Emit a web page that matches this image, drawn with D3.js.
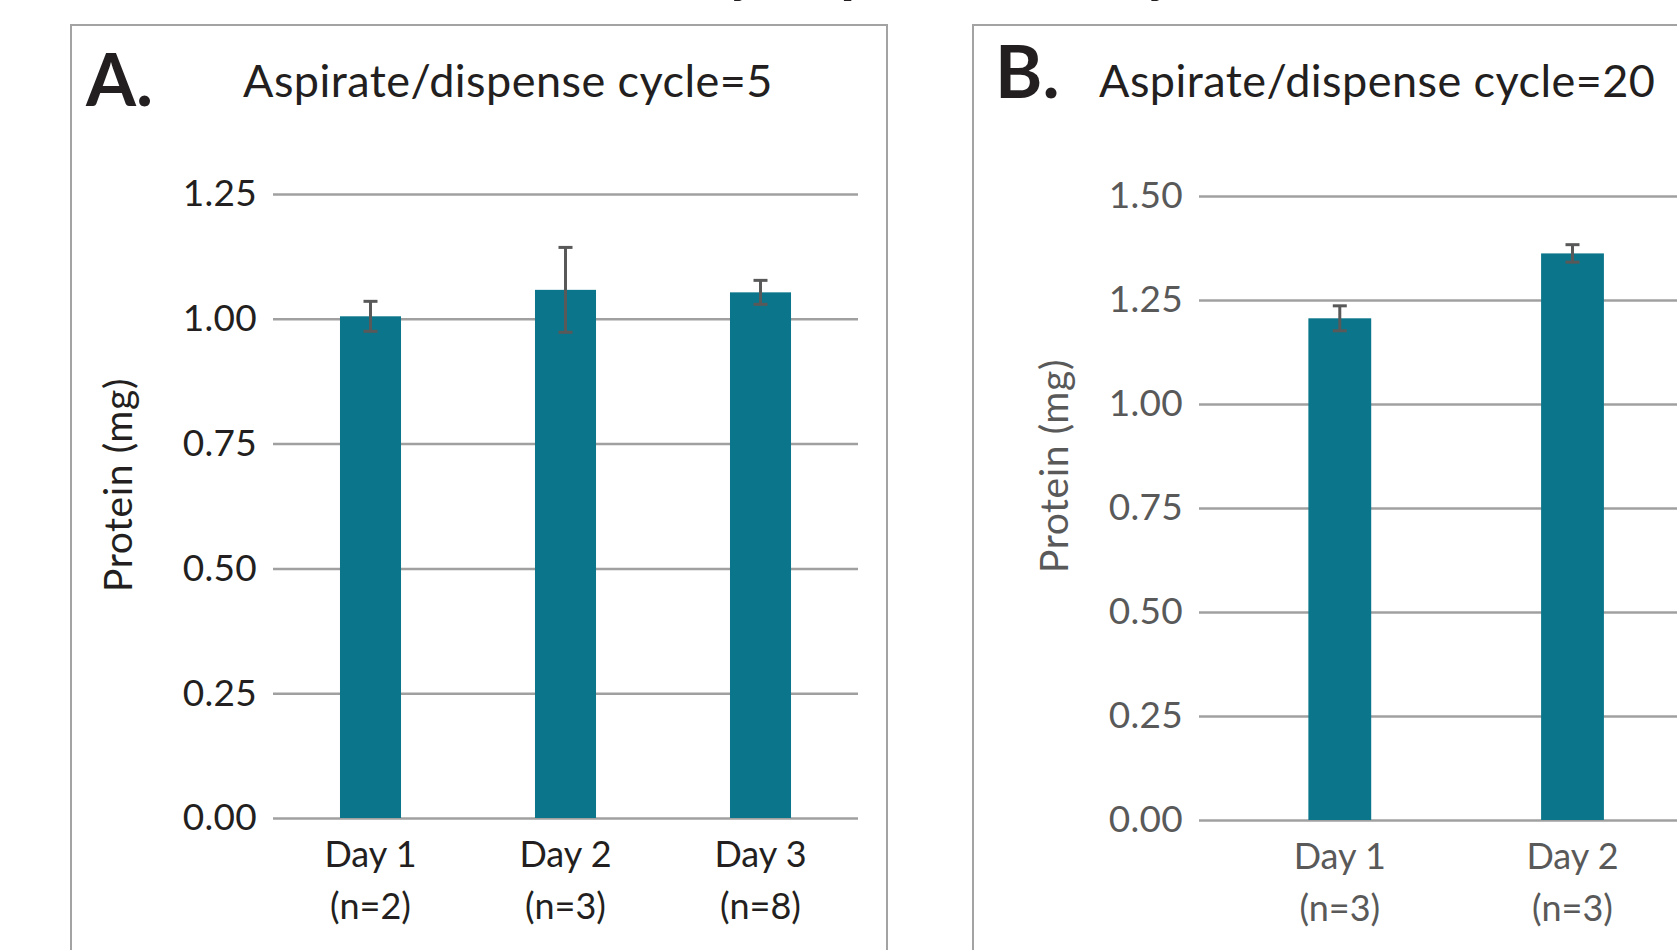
<!DOCTYPE html>
<html>
<head>
    <meta charset="utf-8">
    <title>Protein reproducibility</title>
    <script src="https://d3js.org/d3.v7.min.js"></script>
    <style>
        body { margin: 0; background: #fff; }
        text { font-family: Lato, "Open Sans", sans-serif; }
    </style>
</head>
<body>
    <script>
        // Data
        const mainTitle = "Inter-Day Reproducibility";

        const titleA = "Aspirate/dispense cycle=5";
        const daysA = ["Day 1", "Day 2", "Day 3"];
        const countsA = ["(n=2)", "(n=3)", "(n=8)"];
        const proteinA = [1.005, 1.058, 1.053];
        const errorA = [0.030, 0.085, 0.024];
        const ticksA = [0, 0.25, 0.5, 0.75, 1.0, 1.25];

        // third day of panel B is cut off by the picture edge
        const titleB = "Aspirate/dispense cycle=20";
        const daysB = ["Day 1", "Day 2", "Day 3"];
        const countsB = ["(n=3)", "(n=3)"];
        const proteinB = [1.206, 1.362];
        const errorB = [0.030, 0.021];
        const ticksB = [0, 0.25, 0.5, 0.75, 1.0, 1.25, 1.5];

        const width = 1677, height = 950;
        const barColor = "#0b768b";

        const svg = d3.select("body")
            .append("svg")
            .attr("width", width)
            .attr("height", height);

        // Main title: only its descenders show at the top edge
        const head = svg.append("text")
            .attr("font-weight", "bold")
            .attr("font-size", 60)
            .attr("fill", "#231f20")
            .text(mainTitle);
        const i1 = mainTitle.indexOf("y"), i2 = mainTitle.lastIndexOf("y");
        const mid = i => { const e = head.node().getExtentOfChar(i); return e.x + e.width / 2; };
        const fs = 60 * (1160 - 742) / (mid(i2) - mid(i1));
        head.attr("font-size", fs);
        head.attr("x", 742 - mid(i1)).attr("y", 3 - 0.2 * fs);

        function drawPanel(p) {
            // frame
            svg.append("rect")
                .attr("x", p.frame[0]).attr("y", p.frame[1])
                .attr("width", p.frame[2]).attr("height", p.frame[3])
                .attr("fill", "none")
                .attr("stroke", "#a3a3a3")
                .attr("stroke-width", 2);

            svg.append("text")
                .attr("x", p.letterX).attr("y", p.letterY)
                .attr("font-size", 72)
                .attr("font-weight", "bold")
                .attr("fill", "#231f20")
                .text(p.letter);

            svg.append("text")
                .attr("x", p.titleX).attr("y", 97)
                .attr("font-size", 45)
                .attr("letter-spacing", 0.45)
                .attr("fill", "#231f20")
                .text(p.title);

            const y = d3.scaleLinear()
                .domain([0, p.ymax])
                .range([p.y0, p.y1]);

            const x = d3.scaleBand()
                .domain(p.days)
                .range([p.x0, p.x1])
                .paddingInner(p.padIn)
                .paddingOuter(p.padOut);

            // gridlines + tick labels
            const axis = svg.append("g")
                .attr("transform", `translate(${p.x0},0)`)
                .call(d3.axisLeft(y)
                    .tickValues(p.ticks)
                    .tickSize(-(p.x1 - p.x0))
                    .tickPadding(16)
                    .tickFormat(d3.format(".2f")));
            axis.select(".domain").remove();
            axis.selectAll(".tick line")
                .attr("stroke", "#a0a0a0")
                .attr("stroke-width", 2.5);
            axis.selectAll(".tick text")
                .attr("font-family", "Lato, sans-serif")
                .attr("font-size", 37)
                .attr("letter-spacing", 0.3)
                .attr("fill", p.textColor);

            // bars
            svg.selectAll(null)
                .data(p.values)
                .enter()
                .append("rect")
                .attr("x", (d, i) => x(p.days[i]))
                .attr("y", d => y(d))
                .attr("width", x.bandwidth())
                .attr("height", d => y(0) - y(d))
                .attr("fill", barColor);

            // error bars
            const err = svg.selectAll(null)
                .data(p.values)
                .enter()
                .append("g")
                .attr("stroke", "#595959")
                .attr("stroke-width", 3);
            const cx = i => x(p.days[i]) + x.bandwidth() / 2;
            err.append("line")
                .attr("x1", (d, i) => cx(i)).attr("x2", (d, i) => cx(i))
                .attr("y1", (d, i) => y(d + p.errors[i]))
                .attr("y2", (d, i) => y(d - p.errors[i]));
            [1, -1].forEach(s => {
                err.append("line")
                    .attr("x1", (d, i) => cx(i) - 7).attr("x2", (d, i) => cx(i) + 7)
                    .attr("y1", (d, i) => y(d + s * p.errors[i]))
                    .attr("y2", (d, i) => y(d + s * p.errors[i]));
            });

            // category labels
            const cat = svg.selectAll(null)
                .data(p.counts)
                .enter()
                .append("text")
                .attr("text-anchor", "middle")
                .attr("font-size", 36)
                .attr("fill", p.textColor);
            cat.append("tspan")
                .attr("x", (d, i) => cx(i))
                .attr("y", p.y0 + 49)
                .text((d, i) => p.days[i]);
            cat.append("tspan")
                .attr("x", (d, i) => cx(i))
                .attr("y", p.y0 + 101)
                .text(d => d);

            // y axis title
            svg.append("text")
                .attr("transform", `translate(${p.ylabX},${p.ylabY}) rotate(-90)`)
                .attr("text-anchor", "middle")
                .attr("font-size", 39)
                .attr("letter-spacing", 0.6)
                .attr("fill", p.textColor)
                .text("Protein (mg)");
        }

        drawPanel({
            frame: [71, 25, 816, 960],
            letter: "A.", letterX: 86, letterY: 106,
            title: titleA, titleX: 243,
            days: daysA, counts: countsA, values: proteinA, errors: errorA,
            ticks: ticksA, ymax: 1.25, y0: 818, y1: 194,
            x0: 273, x1: 858, padIn: 0.687, padOut: 0.3435,
            textColor: "#231f20",
            ylabX: 132, ylabY: 485
        });

        drawPanel({
            frame: [973, 25, 900, 960],
            letter: "B.", letterX: 995, letterY: 98,
            title: titleB, titleX: 1099,
            days: daysB, counts: countsB, values: proteinB, errors: errorB,
            ticks: ticksB, ymax: 1.5, y0: 820, y1: 196,
            x0: 1199, x1: 1946, padIn: 0.73, padOut: 0.47,
            textColor: "#595959",
            ylabX: 1068, ylabY: 466
        });
    </script>
</body>
</html>
